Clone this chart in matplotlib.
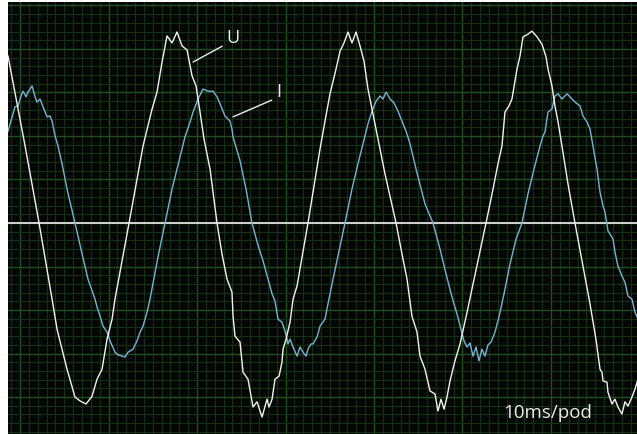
"""Scope capture: mains voltage U and load current I, 10 ms per division."""

import matplotlib

matplotlib.use("Agg")
import matplotlib.pyplot as plt
from matplotlib.ticker import MultipleLocator

SCREEN_BG = "#030603"
GRID_MAJOR = "#234e23"
GRID_MINOR = "#153015"
ZERO_LINE = "#d4d4d4"
U_COLOR = "#f2f2f2"
I_COLOR = "#78b4d2"
LABEL_COLOR = "#ececec"

# voltage trace: time [ms], amplitude [div]
u_t = [
    -1.36, 0.57, 2.15, 3.62, 4.18, 4.75, 5.31, 6.21, 6.78, 7.46, 8.14, 8.70,
    9.27, 9.83, 10.40, 10.73, 12.32, 13.90, 14.92, 15.48, 16.05, 16.61, 17.18,
    17.74, 18.31, 18.87, 19.44, 19.89, 20.34, 20.79, 21.47, 22.26, 22.82, 23.39,
    23.95, 24.07, 24.29, 24.86, 25.20, 25.76, 26.33, 26.78, 27.35, 27.91, 28.14,
    28.48, 28.81, 29.27, 29.60, 29.72, 30.06, 30.51, 30.85, 31.30, 32.54, 33.90,
    34.46, 35.03, 35.71, 36.16, 36.61, 37.06, 37.51, 37.97, 38.42, 38.87, 39.32,
    39.77, 40.45, 41.24, 42.49, 43.16, 43.73, 44.29, 44.86, 45.20, 45.76, 46.33,
    46.89, 47.23, 47.57, 47.91, 48.25, 48.59, 49.15, 49.72, 50.40, 51.07, 51.75,
    52.66, 53.45, 54.01, 54.46, 54.80, 55.25, 55.59, 56.16, 56.50, 56.84, 57.40,
    57.85, 58.42, 58.98, 59.44, 59.66, 60.11, 60.45, 60.80, 61.24, 61.92, 62.71,
    63.50, 64.41, 65.08, 65.54, 65.76, 65.88, 66.33, 66.44, 66.89, 67.23, 67.57,
    68.02, 68.36, 68.70, 69.15, 69.49, 69.83,
]
u_v = [
    3.84, 1.77, 0.00, -1.75, -2.44, -2.90, -3.36, -4.00, -4.09, -4.16, -3.98, -3.59,
    -3.36, -2.67, -2.21, -1.75, 0.00, 1.77, 2.62, 3.01, 3.70, 4.30, 4.14,
    4.39, 4.07, 3.98, 3.38, 3.15, 2.55, 1.93, 1.24, 0.00, -0.71, -1.29,
    -1.59, -2.14, -2.60, -2.74, -3.43, -3.59, -4.23, -4.11, -4.46, -4.05, -4.23,
    -4.05, -3.59, -3.52, -3.20, -2.90, -2.67, -2.28, -1.75, -1.45, 0.00, 1.70,
    2.34, 2.97, 3.54, 3.95, 4.14, 4.39, 4.14, 4.39, 4.07, 3.72, 3.08,
    2.62, 1.93, 1.13, 0.00, -0.71, -1.29, -2.14, -2.51, -3.06, -3.36, -3.86,
    -3.93, -4.32, -4.05, -4.28, -4.00, -3.63, -3.17, -2.78, -2.16, -1.52, -0.87,
    0.00, 0.78, 1.36, 1.77, 2.55, 2.69, 2.85, 3.54, 3.84, 4.28, 4.34,
    4.41, 4.28, 4.11, 3.82, 3.54, 3.15, 2.69, 2.32, 1.77, 0.90, 0.00,
    -0.87, -1.86, -2.67, -3.36, -3.43, -3.63, -3.66, -3.89, -4.16, -4.05, -4.23,
    -4.39, -4.11, -4.21, -4.00, -3.82, -3.59,
]

# current trace: time [ms], amplitude [div]
i_t = [
    -1.36, -0.90, -0.57, -0.23, 0.11, 0.34, 0.68, 0.90, 1.36, 1.70, 1.92, 2.26,
    2.60, 3.05, 3.39, 3.62, 3.96, 4.29, 4.75, 5.31, 6.21, 7.01, 7.68, 8.47,
    8.70, 9.04, 9.38, 9.83, 10.17, 10.73, 11.07, 11.86, 12.20, 12.77, 13.22, 13.56,
    13.90, 14.35, 14.69, 15.59, 16.38, 17.18, 18.08, 18.64, 19.21, 19.55, 20.11,
    20.68, 21.24, 21.81, 22.26, 22.60, 23.16, 23.73, 23.95, 24.07, 24.86, 25.54,
    26.21, 26.89, 27.46, 28.02, 28.48, 28.81, 29.15, 29.60, 29.94, 30.17, 30.28,
    30.51, 30.85, 31.30, 31.64, 31.98, 32.32, 32.54, 32.88, 33.11, 33.56, 33.90,
    34.46, 34.80, 35.37, 36.05, 36.72, 37.51, 38.19, 38.76, 39.32, 39.77, 40.23,
    40.68, 41.02, 41.36, 41.81, 42.26, 42.71, 43.16, 43.62, 44.07, 44.75, 45.76,
    46.67, 47.46, 48.14, 48.81, 49.38, 49.83, 50.17, 50.51, 50.85, 51.19, 51.53,
    51.86, 52.20, 52.54, 52.88, 53.22, 53.67, 54.12, 54.69, 55.37, 56.05, 56.72,
    57.40, 58.08, 58.76, 59.10, 59.32, 59.66, 60.11, 60.45, 60.80, 61.24, 61.81,
    62.37, 62.71, 63.28, 63.62, 64.07, 64.41, 64.75, 65.20, 65.54, 65.88, 66.10,
    66.44, 67.01, 67.23, 67.57, 68.02, 68.36, 68.70, 69.15, 69.49, 69.83,
]
i_v = [
    2.11, 2.44, 2.67, 2.69, 2.92, 3.03, 2.90, 3.01, 3.15, 2.90, 2.78, 2.85,
    2.67, 2.44, 2.46, 2.34, 2.00, 1.77, 1.36, 0.78, 0.00, -0.71, -1.29, -1.75,
    -1.93, -2.14, -2.37, -2.51, -2.71, -2.97, -3.03, -3.08, -2.97, -2.90, -2.71, -2.51,
    -2.37, -2.05, -1.75, -0.78, 0.00, 0.78, 1.52, 1.98, 2.32, 2.55, 2.85,
    3.08, 3.03, 3.03, 2.90, 2.74, 2.46, 2.34, 2.16, 1.98, 1.43, 0.78,
    0.00, -0.51, -0.87, -1.29, -1.63, -1.79, -2.21, -2.28, -2.48, -2.67, -2.78,
    -2.67, -2.85, -3.06, -2.85, -2.97, -3.06, -2.90, -2.78, -2.78, -2.62, -2.37,
    -2.21, -1.86, -1.29, -0.64, 0.00, 0.78, 1.36, 1.82, 2.28, 2.57, 2.80,
    2.92, 2.85, 3.01, 2.85, 2.76, 2.57, 2.34, 2.11, 1.82, 1.24, 0.44,
    0.00, -0.60, -1.17, -1.70, -2.09, -2.44, -2.71, -2.85, -2.76, -3.06, -2.85,
    -3.17, -2.90, -3.06, -2.80, -2.74, -2.51, -2.16, -1.63, -0.94, -0.37, 0.00,
    0.67, 1.24, 1.77, 2.00, 2.09, 2.55, 2.62, 2.92, 2.97, 2.85, 2.97,
    2.85, 2.78, 2.69, 2.46, 2.32, 2.16, 1.77, 1.24, 0.71, 0.39, 0.25,
    -0.18, -0.37, -0.67, -0.99, -1.22, -1.36, -1.68, -1.75, -2.05, -2.21,
]

TIME_BASE = "10ms/pod"

fig = plt.figure(figsize=(6.37, 4.35), dpi=100, facecolor="white")
ax = fig.add_axes([8 / 637, 0.0, 629 / 637, 432 / 435])
ax.set_facecolor(SCREEN_BG)

ax.set_xlim(-1.36, 69.72)
ax.set_ylim(-4.85, 5.08)
ax.xaxis.set_major_locator(MultipleLocator(10))
ax.xaxis.set_minor_locator(MultipleLocator(1))
ax.yaxis.set_major_locator(MultipleLocator(1))
ax.yaxis.set_minor_locator(MultipleLocator(0.2))
ax.grid(True, which="minor", color=GRID_MINOR, linewidth=0.8)
ax.grid(True, which="major", color=GRID_MAJOR, linewidth=1.0)
ax.set_axisbelow(True)
ax.tick_params(which="both", length=0, labelbottom=False, labelleft=False)
for spine in ax.spines.values():
    spine.set_visible(False)

ax.axhline(0.0, color=ZERO_LINE, linewidth=1.4, zorder=2)
ax.plot(i_t, i_v, color=I_COLOR, linewidth=1.0, zorder=3)
ax.plot(u_t, u_v, color=U_COLOR, linewidth=1.0, zorder=4)

label_font = dict(family=["Open Sans", "DejaVu Sans"], fontsize=13, color=LABEL_COLOR)
leader = dict(arrowstyle="-", color=LABEL_COLOR, linewidth=1.0, shrinkA=1, shrinkB=0, relpos=(0.0, 0.1))
ax.annotate("U", xy=(19.55, 3.70), xytext=(23.3, 4.28), ha="left", va="center",
            arrowprops=leader, **label_font)
ax.annotate("I", xy=(24.07, 2.44), xytext=(28.9, 3.03), ha="left", va="center",
            arrowprops=leader, **label_font)

ax.text(0.787, 0.039, TIME_BASE, transform=ax.transAxes, ha="left", va="baseline",
        family=["Open Sans", "DejaVu Sans"], fontsize=13.5, color=LABEL_COLOR)

fig.savefig("out.png", dpi=100, facecolor=fig.get_facecolor())
